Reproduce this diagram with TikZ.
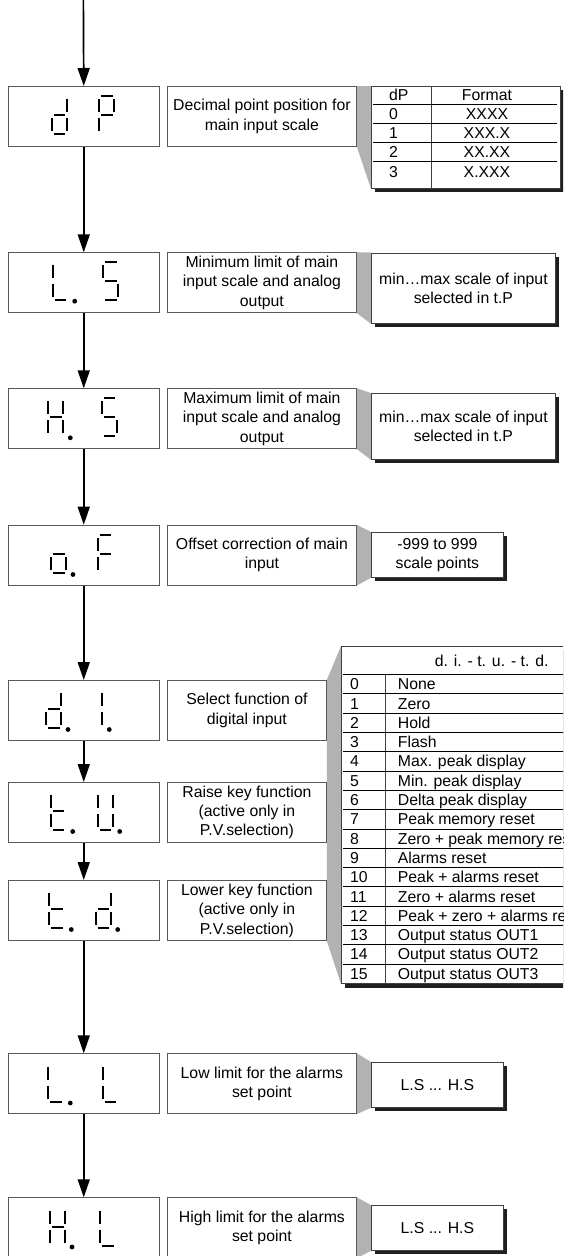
\documentclass[tikz,border=0pt]{standalone}
\usepackage{fontspec}
\setmainfont{Liberation Sans}
\usetikzlibrary{arrows.meta,shadows}
\pgfdeclarelayer{bg}
\pgfsetlayers{bg,main}
\newcommand\txt{\fontsize{15.8}{19.5}\selectfont}
\newcommand\digit[3]{%
 \begin{scope}[shift={(#1,#2)}]
 \foreach \s in {#3}{%
  \if a\s \draw[seg] (1.8,0) -- (13.5,0);\fi
  \if b\s \draw[seg] (15,3) -- (15,16);\fi
  \if c\s \draw[seg] (15,22) -- (15,35);\fi
  \if d\s \draw[seg] (1.8,38) -- (13.5,38);\fi
  \if e\s \draw[seg] (0,22) -- (0,35);\fi
  \if f\s \draw[seg] (0,3) -- (0,16);\fi
  \if g\s \draw[seg] (1.8,19) -- (13.5,19);\fi
  \if p\s \fill (22,39.5) circle (2.4);\fi
 }
 \end{scope}}
\begin{document}
\begin{tikzpicture}[x=1pt,y=-1pt,
  box/.style={draw=black!65, line width=0.8pt, inner sep=0pt, anchor=north west, fill=white},
  disp/.style={box, minimum width=150.7pt, minimum height=60pt},
  descn/.style={box, align=center, font=\txt},
  valn/.style={box, align=center, font=\txt, draw=black!75,
     drop shadow={opacity=1, fill=black!88, shadow xshift=4pt, shadow yshift=-4pt}},
  conn/.style={fill=black!30},
  flow/.style={line width=1.7pt, -{Triangle[length=18pt,width=12pt]}},
  seg/.style={line width=2pt},
  rowline/.style={line width=0.8pt},
  cell/.style={font=\txt, inner sep=0pt, anchor=base west},
  ccell/.style={font=\txt, inner sep=0pt, anchor=base}]
\useasboundingbox (0,0) rectangle (563,1256);
\clip (0,0) rectangle (563,1256);
\coordinate (top) at (83.35,0);

% ---- dP
\node[disp] (dp) at (8,86) {};
\node[descn, minimum width=189pt, minimum height=60pt] (dpd) at (167,86) {Decimal point position for\\main input scale};
\node[valn, minimum width=189pt, minimum height=102pt] (dpt) at (371,86) {};
\draw[black!75, line width=0.8pt] (431,86) -- (431,188);
\foreach \yy in {104,123.3,142.3,161.7} \draw[rowline] (373,\yy) -- (557,\yy);
\node[cell] (dph1) at (389,100.6) {dP};
\node[ccell] (dph2) at (487,100.6) {Format};
\node[cell] (dpr0) at (389,119.3) {0};
\node[ccell] (dpf0) at (487,119.3) {XXXX};
\node[cell] (dpr1) at (389,138.4) {1};
\node[ccell] (dpf1) at (487,138.4) {XXX.X};
\node[cell] (dpr2) at (389,157.6) {2};
\node[ccell] (dpf2) at (487,157.6) {XX.XX};
\node[cell] (dpr3) at (389,177.6) {3};
\node[ccell] (dpf3) at (487,177.6) {X.XXX};
\digit{51.7}{96}{b,c,d,e,g}
\digit{99.3}{96}{a,b,e,f,g}

% ---- L.S
\node[disp] (ls) at (8,252.3) {};
\node[descn, minimum width=189pt, minimum height=60pt] (lsd) at (167,252.3) {Minimum limit of main\\input scale and analog\\output};
\node[valn, minimum width=184pt, minimum height=70.5pt] (lsv) at (371,252.5) {min…max scale of input\\selected in t.P};
\digit{52.7}{261.7}{d,e,f,p}
\digit{103.3}{261.7}{a,f,g,c,d}

% ---- H.S
\node[disp] (hs) at (8,388.3) {};
\node[descn, minimum width=189pt, minimum height=60pt] (hsd) at (167,388.3) {Maximum limit of main\\input scale and analog\\output};
\node[valn, minimum width=184pt, minimum height=66pt] (hsv) at (371,393) {min…max scale of input\\selected in t.P};
\digit{48.3}{398.3}{b,c,e,f,g,p}
\digit{101.7}{398.3}{a,f,g,c,d}

% ---- o.F
\node[disp] (of) at (8,524.7) {};
\node[descn, minimum width=189pt, minimum height=60pt] (ofd) at (167,524.7) {Offset correction of main\\input};
\node[valn, minimum width=132pt, minimum height=45pt] (ofv) at (371,532) {-999 to 999\\scale points};
\digit{51}{535}{c,d,e,g,p}
\digit{97.7}{535}{a,e,f,g}

% ---- d.i / t.u / t.d
\node[disp] (di) at (8,680) {};
\node[descn, minimum width=159pt, minimum height=60pt] (did) at (167,680) {Select function of\\digital input};
\digit{46}{690}{b,c,d,e,g,p}
\digit{87.3}{690}{b,c,p}

\node[disp] (tu) at (8,782) {};
\node[descn, minimum width=159pt, minimum height=60pt] (tud) at (167,782) {Raise key function\\(active only in\\P.V.selection)};
\digit{50.7}{792}{d,e,f,g,p}
\digit{97.7}{792}{b,c,d,e,f,p}

\node[disp] (td) at (8,880) {};
\node[descn, minimum width=159pt, minimum height=60pt] (tdd) at (167,880) {Lower key function\\(active only in\\P.V.selection)};
\digit{49.3}{890}{d,e,f,g,p}
\digit{95.7}{890}{b,c,d,e,g,p}

\node[valn, minimum width=262pt, minimum height=337.3pt] (dit) at (341,646) {};
\node[ccell] (dith) at (491.7,666.6) {d. i. - t. u. - t. d.};
\draw[rowline] (343,674.5) -- (603,674.5);
\draw[black!75, line width=0.8pt] (385,674.5) -- (385,983.3);
\foreach \n/\t [count=\k from 0] in {0/None,1/Zero,2/Hold,3/Flash,4/Max. peak display,5/Min. peak display,6/Delta peak display,7/Peak memory reset,8/Zero + peak memory reset,9/Alarms reset,10/Peak + alarms reset,11/Zero + alarms reset,12/Peak + zero + alarms reset,13/Output status OUT1,14/Output status OUT2,15/Output status OUT3}{
  \node[cell] (dn\k) at (350,{674.5+19.3*\k+9.65+5.6}) {\n};
  \node[cell] (dt\k) at (397.7,{674.5+19.3*\k+9.65+5.6}) {\t};
  \ifnum\k>0 \draw[rowline] (343,{674.5+19.3*\k}) -- (603,{674.5+19.3*\k});\fi
}

% ---- L.L
\node[disp] (ll) at (8,1053.3) {};
\node[descn, minimum width=189pt, minimum height=60pt] (lld) at (167,1053.3) {Low limit for the alarms\\set point};
\node[valn, minimum width=132pt, minimum height=45pt] (llv) at (371,1062) {L.S ... H.S};
\digit{48.3}{1063.5}{d,e,f,p}
\digit{102.7}{1063.5}{d,e,f}

% ---- H.L
\node[disp] (hl) at (8,1197.3) {};
\node[descn, minimum width=189pt, minimum height=60pt] (hld) at (167,1197.3) {High limit for the alarms\\set point};
\node[valn, minimum width=132pt, minimum height=45pt] (hlv) at (371,1205) {L.S ... H.S};
\digit{50}{1207.5}{b,c,e,f,g,p}
\digit{100}{1207.5}{d,e,f}

% ---- grey connectors
\begin{pgfonlayer}{bg}
\fill[conn] (dpd.north east) -- (dpt.north west) -- (dpt.south west) -- (dpd.south east) -- cycle;
\fill[conn] (lsd.north east) -- (lsv.north west) -- (lsv.south west) -- (lsd.south east) -- cycle;
\fill[conn] (hsd.north east) -- (hsv.north west) -- (hsv.south west) -- (hsd.south east) -- cycle;
\fill[conn] (ofd.north east) -- (ofv.north west) -- (ofv.south west) -- (ofd.south east) -- cycle;
\fill[conn] (did.north east) -- (dit.north west) -- (dit.south west) -- (tdd.south east) -- cycle;
\fill[conn] (lld.north east) -- (llv.north west) -- (llv.south west) -- (lld.south east) -- cycle;
\fill[conn] (hld.north east) -- (hlv.north west) -- (hlv.south west) -- (hld.south east) -- cycle;
\end{pgfonlayer}

% ---- flow arrows
\draw[flow] (top) -- (dp.north);
\draw[flow] (dp.south) -- (ls.north);
\draw[flow] (ls.south) -- (hs.north);
\draw[flow] (hs.south) -- (of.north);
\draw[flow] (of.south) -- (di.north);
\draw[flow] (di.south) -- (tu.north);
\draw[flow] (tu.south) -- (td.north);
\draw[flow] (td.south) -- (ll.north);
\draw[flow] (ll.south) -- (hl.north);
\end{tikzpicture}
\end{document}
